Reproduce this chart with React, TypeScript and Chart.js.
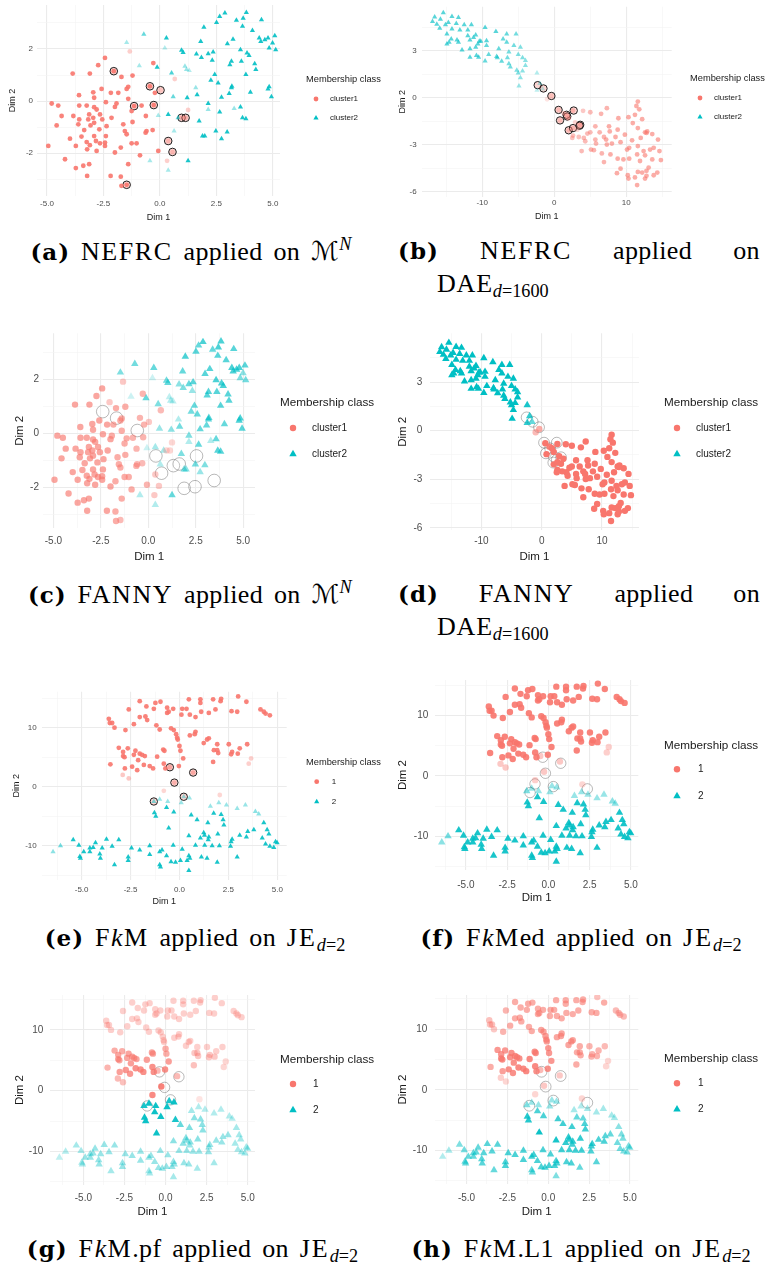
import React, { useEffect, useRef } from "react";
import { Chart, registerables } from "chart.js";
Chart.register(...registerables);

const FONT = '"Liberation Sans", Arial, Helvetica, sans-serif';
const SERIF = '"Liberation Serif", "Times New Roman", serif';
const RED = "248,118,109";
const TEAL = "0,191,196";
const LEGEND_TITLE = "Membership class";
const X_TITLE = "Dim 1";
const Y_TITLE = "Dim 2";

// ---------- tick definitions ----------
const M_X_MAJOR = [-5, -2.5, 0, 2.5, 5];
const M_X_LABELS = ["-5.0", "-2.5", "0.0", "2.5", "5.0"];
const M_X_MINOR = [-3.75, -1.25, 1.25, 3.75];
const M_Y_MAJOR = [-2, 0, 2];
const M_Y_LABELS = ["-2", "0", "2"];
const M_Y_MINOR = [-3, -1, 1, 3];

const DAE_X_MAJOR = [-10, 0, 10];
const DAE_X_LABELS = ["-10", "0", "10"];
const DAE_X_MINOR = [-15, -5, 5, 15];
const DAE_Y_MAJOR = [-6, -3, 0, 3];
const DAE_Y_LABELS = ["-6", "-3", "0", "3"];
const DAE_Y_MINOR = [-4.5, -1.5, 1.5, 4.5];

const JE_X_MAJOR = [-5, -2.5, 0, 2.5, 5];
const JE_X_LABELS = ["-5.0", "-2.5", "0.0", "2.5", "5.0"];
const JE_X_MINOR = [-6.25, -3.75, -1.25, 1.25, 3.75];
const JE_Y_MAJOR = [-10, 0, 10];
const JE_Y_LABELS = ["-10", "0", "10"];
const JE_Y_MINOR = [-15, -5, 5, 15];

const CLUSTER_LABELS = ["cluster1", "cluster2"];
const NUM_LABELS = ["1", "2"];

// ---------- data: M^N embedding  [x, y, class, membership(a), membership(c)] ----------
const M_ROWS = [
  [-1.33, 1.91, 1, 0.35, 0.4], [-2.43, 1.66, 1, 0.9, 0.65], [-0.29, 1.46, 1, 0.9, 0.55], [-2.73, 1.38, 1, 0.9, 0.65],
  [-3.86, 1.06, 1, 0.9, 0.65], [-3.1, 1.06, 1, 0.9, 0.65], [-2.04, 1.15, 1, 0.9, 0.4], [-1.7, 0.93, 1, 0.9, 0.6],
  [-1.21, 0.98, 1, 0.9, 0.6], [0.66, 0.85, 1, 0.35, 0.5], [-2.58, 0.47, 1, 0.9, 0.65], [-1.47, 0.47, 1, 0.9, 0.6],
  [-1.4, 0.55, 1, 0.9, 0.6], [-1.84, 0.32, 1, 0.9, 0.6], [-2.17, 0.32, 1, 0.9, 0.65], [-2.95, 0.34, 1, 0.9, 0.65],
  [-0.44, 0.57, 1, 0.9, 0.55], [-0.22, 0.32, 1, 0.9, 0.55], [-3.58, 0.23, 1, 0.9, 0.65], [-2.91, 0.13, 1, 0.9, 0.65],
  [-1.4, 0.09, 1, 0.9, 0.6], [-1.92, -0.09, 1, 0.9, 0.6], [-4.79, -0.09, 1, 0.9, 0.65], [-4.5, -0.17, 1, 0.9, 0.65],
  [-2.39, -0.04, 1, 0.9, 0.65], [-1.99, -0.22, 1, 0.9, 0.65], [-3.24, -0.17, 1, 0.9, 0.65], [-3.57, -0.17, 1, 0.9, 0.65],
  [-2.91, -0.23, 1, 0.9, 0.65], [-2.8, -0.32, 1, 0.9, 0.65], [-0.81, -0.17, 1, 0.9, 0.55], [-1.14, -0.19, 1, 0.9, 0.6],
  [-0.27, -0.15, 1, 0.9, 0.55], [-4.35, -0.57, 1, 0.9, 0.65], [-3.83, -0.57, 1, 0.9, 0.65], [-3.13, -0.51, 1, 0.9, 0.65],
  [-2.65, -0.51, 1, 0.9, 0.65], [-3.17, -0.7, 1, 0.9, 0.65], [-2.95, -0.64, 1, 0.9, 0.65], [-2.14, -0.64, 1, 0.9, 0.65],
  [-2.55, -0.7, 1, 0.9, 0.65], [-1.25, -0.38, 1, 0.9, 0.6], [-0.62, -0.57, 1, 0.9, 0.55], [-3.57, -0.7, 1, 0.9, 0.65],
  [-4.57, -0.93, 1, 0.9, 0.65], [-3.61, -0.89, 1, 0.9, 0.65], [-3.07, -0.93, 1, 0.9, 0.65], [-2.91, -0.83, 1, 0.9, 0.65],
  [-2.36, -0.96, 1, 0.9, 0.65], [-2.68, -1.08, 1, 0.9, 0.65], [-3.35, -1.11, 1, 0.9, 0.65], [-1.62, -0.89, 1, 0.9, 0.6],
  [-1.55, -1.15, 1, 0.9, 0.6], [-1.21, -0.8, 1, 0.9, 0.6], [-0.59, -1.15, 1, 0.9, 0.55], [-0.32, -1.11, 1, 0.9, 0.5],
  [-0.63, -1.21, 1, 0.9, 0.55], [1.25, -0.34, 1, 0.35, 0.3], [-3.98, -1.44, 1, 0.9, 0.65], [-3.47, -1.36, 1, 0.9, 0.65],
  [-2.91, -1.34, 1, 0.9, 0.65], [-2.39, -1.34, 1, 0.9, 0.65], [-3.24, -1.57, 1, 0.9, 0.65], [-2.83, -1.53, 1, 0.9, 0.65],
  [-2.65, -1.62, 1, 0.9, 0.65], [-2.43, -1.59, 1, 0.9, 0.65], [-1.25, -1.62, 1, 0.9, 0.6], [-1.03, -1.62, 1, 0.9, 0.6],
  [-1.47, -1.27, 1, 0.9, 0.6], [-3.72, -1.72, 1, 0.9, 0.65], [-3.1, -1.69, 1, 0.9, 0.65], [-4.94, -1.72, 1, 0.9, 0.65],
  [-3.22, -1.85, 1, 0.9, 0.65], [-2.8, -1.91, 1, 0.9, 0.65], [-2.43, -1.72, 1, 0.9, 0.65], [-1.73, -1.78, 1, 0.9, 0.6],
  [-4.2, -2.23, 1, 0.9, 0.65], [-1.99, -1.97, 1, 0.9, 0.65], [-0.88, -2.08, 1, 0.9, 0.6], [-0.07, -1.91, 1, 0.9, 0.55],
  [0.32, -2.29, 1, 0.35, 0.4], [-1.4, -2.42, 1, 0.9, 0.6], [-3.13, -2.42, 1, 0.9, 0.65], [-3.72, -2.57, 1, 0.9, 0.65],
  [-3.39, -2.48, 1, 0.9, 0.65], [-3.22, -2.87, 1, 0.9, 0.65], [-2.18, -2.87, 1, 0.9, 0.65], [-1.73, -2.9, 1, 0.9, 0.6],
  [-1.7, -3.25, 1, 0.9, 0.6], [-1.47, -3.21, 1, 0.9, 0.5], [0.96, -0.64, 1, 0.4, 0.3], [1.14, -0.64, 1, 0.4, 0.3],
  [0.37, -1.53, 1, 0.35, 0.4], [0.56, -1.95, 1, 0.35, 0.4], [0.03, 0.42, 1, 0.2, 0.4],
  [2.88, 3.38, 2, 0.9, 0.7], [2.65, 3.25, 2, 0.9, 0.6], [3.83, 3.4, 2, 0.9, 0.7], [3.69, 3.18, 2, 0.9, 0.7],
  [3.39, 3.1, 2, 0.9, 0.6], [2.51, 3.02, 2, 0.9, 0.65], [4.5, 3.12, 2, 0.9, 0.65], [1.95, 2.84, 2, 0.9, 0.7],
  [4.1, 2.71, 2, 0.9, 0.65], [3.66, 2.87, 2, 0.9, 0.65], [5.09, 2.51, 2, 0.9, 0.65], [4.65, 2.36, 2, 0.9, 0.7],
  [4.47, 2.29, 2, 0.9, 0.7], [4.79, 2.42, 2, 0.9, 0.7], [4.4, 2.42, 2, 0.9, 0.7], [3.24, 2.38, 2, 0.9, 0.65],
  [2.99, 2.2, 2, 0.9, 0.65], [1.81, 2.29, 2, 0.9, 0.6], [4.99, 2.23, 2, 0.9, 0.45], [5.13, 1.97, 2, 0.9, 0.55],
  [4.84, 2.04, 2, 0.9, 0.5], [3.57, 1.97, 2, 0.9, 0.7], [3.86, 1.85, 2, 0.9, 0.7], [3.95, 1.75, 2, 0.9, 0.7],
  [2.36, 1.89, 2, 0.9, 0.65], [2.14, 1.82, 2, 0.9, 0.6], [1.62, 1.81, 2, 0.9, 0.45], [1.84, 1.68, 2, 0.9, 0.5],
  [0.96, 1.95, 2, 0.9, 0.55], [1.03, 1.87, 2, 0.9, 0.6], [0.29, 2.42, 2, 0.9, 0.6], [-0.71, 2.57, 2, 0.6, 0.55],
  [-1.47, 2.25, 2, 0.35, 0.5], [0.22, 2.04, 2, 0.3, 0.2], [2.32, 1.57, 2, 0.9, 0.4], [3.1, 1.4, 2, 0.9, 0.65],
  [3.17, 1.53, 2, 0.9, 0.65], [3.61, 1.53, 2, 0.9, 0.65], [4.2, 1.44, 2, 0.9, 0.65], [4.25, 1.21, 2, 0.9, 0.65],
  [-0.91, 1.36, 2, 0.35, 0.2], [-0.12, 1.3, 2, 0.9, 0.6], [0.52, 1.08, 2, 0.7, 0.5], [1.11, 1.34, 2, 0.4, 0.25],
  [1.18, 1.21, 2, 0.4, 0.3], [1.3, 1.18, 2, 0.3, 0.25], [2.43, 1.02, 2, 0.9, 0.6], [2.26, 0.8, 2, 0.9, 0.55],
  [2.58, 0.7, 2, 0.9, 0.6], [3.81, 1.02, 2, 0.9, 0.65], [3.19, 0.57, 2, 0.9, 0.65], [3.17, 0.51, 2, 0.9, 0.65],
  [4.01, 0.34, 2, 0.9, 0.6], [4.84, 0.55, 2, 0.9, 0.7], [4.79, 0.47, 2, 0.9, 0.7], [4.94, 0.17, 2, 0.9, 0.65],
  [3.07, 0.29, 2, 0.9, 0.6], [2.73, 0.15, 2, 0.9, 0.6], [1.65, 0.25, 2, 0.9, 0.55], [1.59, 0.51, 2, 0.4, 0.3],
  [0.59, 0.17, 2, 0.6, 0.4], [1.21, 0.13, 2, 0.9, 0.45], [2.14, -0.09, 2, 0.9, 0.5], [3.57, -0.22, 2, 0.9, 0.6],
  [3.29, -0.28, 2, 0.4, 0.3], [2.14, -0.32, 2, 0.4, 0.3], [0.37, -0.51, 2, 0.9, 0.35], [-0.07, -0.55, 2, 0.35, 0.2],
  [0.63, -1.15, 2, 0.35, 0.3], [0.81, -0.64, 2, 0.6, 0.35], [2.65, -0.42, 2, 0.9, 0.6], [3.66, -0.64, 2, 0.9, 0.65],
  [3.81, -0.68, 2, 0.9, 0.65], [1.74, -0.76, 2, 0.9, 0.5], [2.48, -1.15, 2, 0.9, 0.55], [2.98, -1.18, 2, 0.9, 0.5],
  [1.89, -1.34, 2, 0.9, 0.5], [1.99, -1.34, 2, 0.9, 0.45], [2.73, -1.44, 2, 0.9, 0.4], [1.25, -2.29, 2, 0.9, 0.6],
  [-0.44, -2.29, 2, 0.35, 0.3], [0.37, -2.65, 2, 0.35, 0.3],
];
const CIRCLES_A = [[-2.04, 1.15], [-0.44, 0.57], [0.03, 0.42], [-1.14, -0.19], [-0.27, -0.15], [0.96, -0.64], [1.14, -0.64], [0.37, -1.53], [0.56, -1.95], [-1.47, -3.21]];
const CIRCLES_C = [[-2.4, 0.8], [-1.67, 0.56], [-0.58, 0.1], [0.4, -0.84], [2.54, -0.84], [1.32, -1.2], [1.63, -1.14], [0.7, -1.48], [3.47, -1.75], [1.89, -2.04], [2.46, -1.98]];

// ---------- data: DAE d=1600  [x, y, class, membership(b), membership(d)] ----------
const DAE_ROWS = [
  [-15.4, 5.43, 2, 0.65, 1], [-16.6, 5.16, 2, 0.65, 1], [-15.8, 5.01, 2, 0.65, 1], [-14.2, 5.18, 2, 0.65, 1],
  [-13.3, 5.12, 2, 0.65, 1], [-16.9, 4.86, 2, 0.65, 1], [-16.3, 4.69, 2, 0.65, 1], [-15.1, 4.65, 2, 0.65, 1],
  [-14.7, 4.8, 2, 0.65, 1], [-13.6, 4.74, 2, 0.65, 1], [-12.5, 4.65, 2, 0.65, 1], [-11.5, 4.65, 2, 0.65, 1],
  [-15.9, 4.44, 2, 0.65, 1], [-14.2, 4.38, 2, 0.65, 1], [-14.9, 4.06, 2, 0.65, 1], [-13.1, 4.32, 2, 0.65, 1],
  [-12.0, 4.32, 2, 0.65, 1], [-9.6, 4.48, 2, 0.65, 1], [-8.1, 4.23, 2, 0.65, 1], [-6.6, 4.06, 2, 0.6, 1],
  [-5.3, 4.06, 2, 0.55, 1], [-12.0, 3.96, 2, 0.65, 1], [-10.9, 4.0, 2, 0.65, 1], [-11.2, 3.85, 2, 0.65, 1],
  [-14.3, 3.75, 2, 0.65, 1], [-13.5, 3.68, 2, 0.65, 1], [-13.3, 3.54, 2, 0.65, 1], [-14.6, 3.54, 2, 0.65, 1],
  [-14.9, 3.43, 2, 0.65, 1], [-10.4, 3.6, 2, 0.65, 1], [-10.2, 3.6, 2, 0.65, 1], [-9.4, 3.64, 2, 0.65, 1],
  [-7.1, 3.75, 2, 0.6, 1], [-6.6, 3.54, 2, 0.6, 1], [-5.6, 3.33, 2, 0.55, 1], [-11.7, 3.68, 2, 0.65, 1],
  [-10.6, 3.43, 2, 0.65, 1], [-9.4, 3.33, 2, 0.6, 1], [-12.8, 3.05, 2, 0.65, 1], [-11.7, 3.12, 2, 0.65, 1],
  [-10.9, 3.22, 2, 0.65, 1], [-7.7, 3.12, 2, 0.6, 1], [-6.3, 2.91, 2, 0.55, 1], [-4.7, 3.22, 2, 0.5, 1],
  [-5.0, 2.76, 2, 0.5, 1], [-11.7, 2.59, 2, 0.65, 1], [-10.8, 2.69, 2, 0.65, 1], [-10.5, 2.59, 2, 0.65, 1],
  [-9.1, 2.76, 2, 0.6, 1], [-8.0, 2.63, 2, 0.6, 1], [-7.9, 2.55, 2, 0.6, 1], [-6.5, 2.55, 2, 0.55, 1],
  [-4.4, 2.55, 2, 0.5, 1], [-9.6, 2.34, 2, 0.6, 1], [-7.3, 2.32, 2, 0.6, 1], [-6.3, 2.17, 2, 0.55, 1],
  [-4.0, 2.38, 2, 0.45, 1], [-6.1, 1.96, 2, 0.55, 1], [-5.2, 1.75, 2, 0.5, 1], [-5.0, 1.58, 2, 0.5, 1],
  [-4.0, 2.06, 2, 0.45, 1], [-4.4, 1.71, 2, 0.45, 1], [-2.4, 1.58, 2, 0.3, 0.9], [-4.7, 1.28, 2, 0.45, 1],
  [-4.9, 0.74, 2, 0.4, 1], [-2.4, 0.48, 2, 0.25, 0.8], [-2.0, 0.9, 2, 0.3, 0.8], [-1.6, 0.55, 2, 0.25, 0.6],
  [11.6, -0.25, 1, 0.6, 1], [11.4, -0.53, 1, 0.6, 1], [11.8, -0.74, 1, 0.6, 1], [7.3, -0.67, 1, 0.55, 1],
  [5.0, -0.93, 1, 0.5, 1], [6.5, -1.03, 1, 0.55, 1], [4.0, -0.84, 1, 0.4, 1], [2.6, -0.82, 1, 0.4, 1],
  [0.6, -0.78, 1, 0.3, 1], [2.0, -1.31, 1, 0.4, 1], [8.9, -1.31, 1, 0.6, 1], [10.3, -1.24, 1, 0.6, 1],
  [11.2, -1.09, 1, 0.6, 1], [12.2, -1.37, 1, 0.6, 1], [7.6, -1.83, 1, 0.6, 1], [5.7, -1.83, 1, 0.55, 1],
  [8.8, -2.04, 1, 0.6, 1], [10.9, -1.62, 1, 0.6, 1], [11.6, -1.94, 1, 0.6, 1], [12.9, -2.15, 1, 0.6, 1],
  [5.0, -2.21, 1, 0.5, 1], [4.6, -2.29, 1, 0.5, 1], [6.3, -2.21, 1, 0.55, 1], [7.7, -2.15, 1, 0.6, 1],
  [9.8, -2.36, 1, 0.6, 1], [12.6, -2.21, 1, 0.6, 1], [13.6, -2.32, 1, 0.6, 1], [6.9, -2.51, 1, 0.55, 1],
  [8.5, -2.51, 1, 0.6, 1], [10.8, -2.72, 1, 0.6, 1], [12.0, -2.57, 1, 0.6, 1], [12.8, -2.25, 1, 0.6, 1],
  [14.4, -2.67, 1, 0.6, 1], [4.1, -2.57, 1, 0.5, 1], [3.4, -2.51, 1, 0.45, 1], [2.6, -2.42, 1, 0.45, 1],
  [2.5, -2.57, 1, 0.45, 1], [4.3, -2.78, 1, 0.5, 1], [5.7, -2.67, 1, 0.55, 1], [7.2, -2.67, 1, 0.6, 1],
  [9.2, -2.84, 1, 0.6, 1], [5.8, -2.93, 1, 0.55, 1], [7.3, -2.99, 1, 0.6, 1], [8.0, -2.93, 1, 0.6, 1],
  [10.4, -3.2, 1, 0.6, 1], [11.6, -3.09, 1, 0.6, 1], [13.8, -3.2, 1, 0.6, 1], [13.3, -3.31, 1, 0.6, 1],
  [5.1, -3.31, 1, 0.55, 1], [5.5, -3.35, 1, 0.55, 1], [10.1, -3.31, 1, 0.6, 1], [12.4, -3.41, 1, 0.6, 1],
  [14.6, -3.41, 1, 0.6, 1], [3.8, -3.41, 1, 0.5, 1], [6.6, -3.56, 1, 0.55, 1], [7.8, -3.62, 1, 0.6, 1],
  [8.8, -3.89, 1, 0.6, 1], [9.6, -3.94, 1, 0.6, 1], [10.4, -3.89, 1, 0.6, 1], [11.5, -3.62, 1, 0.6, 1],
  [12.6, -3.68, 1, 0.6, 1], [13.6, -3.94, 1, 0.6, 1], [14.8, -3.98, 1, 0.6, 1], [6.9, -4.11, 1, 0.55, 1],
  [11.9, -4.04, 1, 0.6, 1], [9.2, -4.53, 1, 0.6, 1], [13.1, -4.46, 1, 0.6, 1], [12.8, -4.67, 1, 0.6, 1],
  [11.6, -4.74, 1, 0.6, 1], [12.2, -4.78, 1, 0.6, 1], [14.3, -4.78, 1, 0.6, 1], [13.8, -4.95, 1, 0.6, 1],
  [8.7, -4.82, 1, 0.6, 1], [10.2, -4.95, 1, 0.6, 1], [11.2, -5.09, 1, 0.6, 1], [12.6, -5.16, 1, 0.6, 1],
  [12.8, -4.99, 1, 0.6, 1], [10.3, -5.16, 1, 0.6, 1], [11.5, -5.58, 1, 0.6, 1],
  [1.3, -0.99, 1, 0.3, 0.9], [2.9, -1.58, 1, 0.3, 1], [3.2, -2.04, 1, 0.3, 1], [-0.4, 0.11, 1, 0.25, 0.6],
  [0.8, -1.45, 1, 0.3, 1], [1.7, -1.09, 1, 0.3, 1], [3.6, -1.73, 1, 0.35, 1], [2.0, -2.08, 1, 0.35, 1],
  [2.6, -1.94, 1, 0.35, 1], [-1.0, -0.1, 1, 0.2, 0.5],
];
const CIRCLES_B = [[-2.3, 0.8], [-1.5, 0.59], [-0.4, 0.11], [0.6, -0.78], [0.8, -1.45], [1.7, -1.09], [1.8, -1.2], [2.7, -0.82], [2.0, -2.08], [2.6, -1.94], [3.6, -1.73], [3.5, -1.79]];
const CIRCLES_D = [[-2.5, 0.82], [-1.5, 0.55], [-0.44, 0.21], [0.39, -0.74], [2.5, -0.74], [1.4, -1.09], [0.7, -1.4], [2.0, -1.6], [3.2, -1.64], [1.93, -1.97], [2.5, -1.8]];

// ---------- data: JE d=2  [x, y, class, m(e), m(f), m(g), m(h)] ----------
const JE_ROWS = [
  [3.0, 15.3, 1, 0.9, 0.9, 0.35, 0.45], [2.13, 14.9, 1, 0.9, 0.9, 0.35, 0.6], [0.48, 14.8, 1, 0.9, 0.9, 0.35, 0.6],
  [1.07, 14.8, 1, 0.9, 0.9, 0.35, 0.6], [-2.03, 14.5, 1, 0.9, 0.9, 0.35, 0.6], [-0.97, 14.4, 1, 0.9, 0.9, 0.35, 0.6],
  [-1.23, 14.2, 1, 0.9, 0.9, 0.35, 0.6], [1.07, 14.2, 1, 0.9, 0.9, 0.35, 0.6], [1.72, 14.8, 1, 0.9, 0.9, 0.35, 0.6],
  [2.1, 14.5, 1, 0.9, 0.9, 0.35, 0.6], [3.42, 14.4, 1, 0.9, 0.9, 0.35, 0.6], [-1.69, 13.6, 1, 0.9, 0.9, 0.35, 0.6],
  [-0.63, 13.4, 1, 0.9, 0.9, 0.35, 0.6], [-0.32, 13.2, 1, 0.9, 0.9, 0.35, 0.6], [0.14, 13.2, 1, 0.9, 0.9, 0.35, 0.6],
  [0.36, 13.2, 1, 0.9, 0.9, 0.35, 0.6], [-2.59, 13.1, 1, 0.9, 0.9, 0.35, 0.55], [-1.31, 13.2, 1, 0.9, 0.9, 0.35, 0.6],
  [1.11, 12.7, 1, 0.9, 0.9, 0.35, 0.6], [1.5, 12.5, 1, 0.9, 0.9, 0.35, 0.6], [1.84, 13.1, 1, 0.9, 0.9, 0.35, 0.6],
  [2.66, 12.8, 1, 0.9, 0.9, 0.35, 0.6], [2.95, 12.7, 1, 0.9, 0.9, 0.35, 0.6], [4.14, 13.1, 1, 0.9, 0.9, 0.35, 0.5],
  [4.31, 12.7, 1, 0.9, 0.9, 0.35, 0.5], [4.62, 12.1, 1, 0.9, 0.9, 0.35, 0.5], [4.4, 12.4, 1, 0.9, 0.9, 0.35, 0.5],
  [-0.63, 12.5, 1, 0.9, 0.9, 0.35, 0.6], [-0.55, 12.7, 1, 0.9, 0.9, 0.35, 0.6], [0.1, 12.2, 1, 0.9, 0.9, 0.35, 0.6],
  [0.53, 12.2, 1, 0.9, 0.9, 0.35, 0.6], [0.82, 11.8, 1, 0.9, 0.9, 0.35, 0.6], [-1.74, 11.9, 1, 0.9, 0.9, 0.35, 0.6],
  [-1.65, 11.3, 1, 0.9, 0.9, 0.35, 0.6], [-2.03, 11.8, 1, 0.9, 0.9, 0.35, 0.6], [-2.33, 10.6, 1, 0.9, 0.9, 0.35, 0.6],
  [-3.61, 11.5, 1, 0.9, 0.9, 0.35, 0.45], [-3.56, 10.8, 1, 0.9, 0.9, 0.35, 0.45], [-3.44, 10.8, 1, 0.9, 0.9, 0.35, 0.45],
  [-3.32, 10.0, 1, 0.9, 0.9, 0.35, 0.4], [-2.76, 9.6, 1, 0.9, 0.9, 0.35, 0.55], [-1.18, 10.4, 1, 0.9, 0.9, 0.35, 0.6],
  [-1.01, 9.7, 1, 0.9, 0.9, 0.35, 0.6], [-0.43, 9.9, 1, 0.9, 0.9, 0.35, 0.65], [-0.29, 9.6, 1, 0.9, 0.9, 0.35, 0.65],
  [-0.17, 8.9, 1, 0.9, 0.9, 0.35, 0.7], [-0.12, 8.3, 1, 0.9, 0.9, 0.35, 0.7], [-0.09, 8.0, 1, 0.9, 0.9, 0.35, 0.7],
  [0.53, 8.7, 1, 0.9, 0.9, 0.35, 0.65], [0.78, 8.9, 1, 0.9, 0.9, 0.35, 0.65], [0.82, 9.3, 1, 0.9, 0.9, 0.35, 0.65],
  [1.41, 8.0, 1, 0.9, 0.9, 0.35, 0.65], [1.5, 8.2, 1, 0.9, 0.9, 0.35, 0.65], [1.24, 7.4, 1, 0.9, 0.9, 0.35, 0.65],
  [1.93, 7.2, 1, 0.9, 0.9, 0.35, 0.6], [2.52, 7.2, 1, 0.9, 0.9, 0.35, 0.55], [3.46, 7.2, 1, 0.9, 0.9, 0.35, 0.5],
  [3.08, 6.5, 1, 0.9, 0.9, 0.35, 0.55], [2.69, 5.9, 1, 0.9, 0.9, 0.4, 0.55], [2.64, 5.5, 1, 0.9, 0.9, 0.4, 0.55],
  [2.98, 5.6, 1, 0.9, 0.9, 0.4, 0.55], [1.93, 6.2, 1, 0.9, 0.9, 0.4, 0.6], [1.76, 6.2, 1, 0.9, 0.9, 0.4, 0.6],
  [1.98, 5.7, 1, 0.9, 0.9, 0.4, 0.6], [1.72, 4.2, 1, 0.9, 0.9, 0.45, 0.6], [3.66, 4.8, 1, 0.35, 0.35, 0.3, 0.3],
  [3.54, 3.9, 1, 0.35, 0.35, 0.3, 0.3], [-3.1, 6.6, 1, 0.9, 0.9, 0.6, 0.75], [-2.64, 6.5, 1, 0.9, 0.9, 0.6, 0.75],
  [-2.88, 5.9, 1, 0.9, 0.9, 0.65, 0.75], [-2.88, 5.2, 1, 0.9, 0.9, 0.65, 0.8], [-2.81, 5.0, 1, 0.9, 0.9, 0.65, 0.8],
  [-2.33, 5.4, 1, 0.9, 0.9, 0.65, 0.8], [-2.25, 6.1, 1, 0.9, 0.9, 0.65, 0.8], [-2.03, 5.6, 1, 0.9, 0.9, 0.65, 0.8],
  [-1.91, 5.4, 1, 0.9, 0.9, 0.65, 0.8], [-1.77, 5.2, 1, 0.9, 0.9, 0.65, 0.8], [-2.11, 4.5, 1, 0.9, 0.9, 0.7, 0.8],
  [-2.42, 3.4, 1, 0.9, 0.9, 0.75, 0.8], [-2.16, 2.8, 1, 0.9, 0.9, 0.75, 0.8], [-2.79, 3.1, 1, 0.9, 0.9, 0.7, 0.7],
  [-3.53, 3.8, 1, 0.9, 0.9, 0.55, 0.6], [-2.9, 2.0, 1, 0.4, 0.4, 0.5, 0.35], [-2.59, 1.4, 1, 0.4, 0.4, 0.45, 0.3],
  [-1.82, 3.7, 1, 0.9, 0.9, 0.8, 0.85], [-1.52, 3.5, 1, 0.9, 0.9, 0.8, 0.85], [-1.35, 3.1, 1, 0.9, 0.9, 0.8, 0.85],
  [-1.14, 5.1, 1, 0.9, 0.9, 0.7, 0.85], [-0.83, 6.3, 1, 0.9, 0.9, 0.65, 0.8], [-0.77, 6.1, 1, 0.9, 0.9, 0.65, 0.8],
  [-0.8, 3.9, 1, 0.9, 0.9, 0.8, 0.85], [-0.72, 3.1, 1, 0.9, 0.9, 0.8, 0.8], [-0.03, 3.5, 1, 0.9, 0.9, 0.8, 0.8],
  [0.19, 4.8, 1, 0.9, 0.9, 0.7, 0.75], [0.0, 6.9, 1, 0.9, 0.9, 0.6, 0.75], [0.05, 6.1, 1, 0.9, 0.9, 0.6, 0.75],
  [-0.49, 3.3, 1, 0.5, 0.4, 0.5, 0.5], [0.7, 2.4, 1, 0.5, 0.4, 0.5, 0.4], [-0.26, 0.7, 1, 0.4, 0.4, 0.9, 0.4],
  [-0.8, -0.7, 1, 0.3, 0.35, 0.85, 0.3], [2.06, -1.4, 1, 0.3, 0.3, 0.2, 0.3],
  [-1.01, -2.1, 2, 0.4, 0.4, 0.95, 0.4], [-0.6, -2.5, 2, 0.4, 0.4, 0.95, 0.4], [0.09, -2.7, 2, 0.4, 0.4, 0.95, 0.4],
  [0.51, -1.9, 2, 0.4, 0.4, 0.95, 0.4], [1.58, -3.3, 2, 0.4, 0.4, 0.35, 0.35], [2.01, -2.7, 2, 0.4, 0.4, 0.3, 0.3],
  [2.4, -3.1, 2, 0.4, 0.4, 0.3, 0.35], [2.95, -3.7, 2, 0.4, 0.4, 0.3, 0.35], [3.37, -3.1, 2, 0.4, 0.4, 0.3, 0.35],
  [3.88, -4.2, 2, 0.45, 0.45, 0.3, 0.35], [4.05, -4.6, 2, 0.45, 0.45, 0.3, 0.35], [0.22, -1.7, 2, 0.4, 0.4, 0.9, 0.4],
  [-1.31, -2.5, 2, 0.5, 0.5, 0.9, 0.5], [-1.28, -4.4, 2, 0.9, 0.9, 0.95, 0.85], [-1.21, -5.0, 2, 0.9, 0.9, 0.95, 0.85],
  [-0.66, -3.5, 2, 0.9, 0.9, 0.95, 0.7], [-0.29, -4.3, 2, 0.9, 0.9, 0.95, 0.7], [-0.55, -7.0, 2, 0.9, 0.9, 0.95, 0.95],
  [0.6, -4.8, 2, 0.9, 0.9, 0.9, 0.75], [0.9, -5.6, 2, 0.9, 0.9, 0.6, 0.75], [1.45, -6.1, 2, 0.9, 0.9, 0.5, 0.75],
  [1.75, -4.5, 2, 0.9, 0.9, 0.45, 0.6], [2.13, -4.7, 2, 0.9, 0.9, 0.45, 0.6], [2.27, -6.5, 2, 0.9, 0.9, 0.45, 0.75],
  [2.23, -5.6, 2, 0.9, 0.9, 0.45, 0.7], [1.24, -7.8, 2, 0.9, 0.9, 0.45, 0.8], [1.28, -8.2, 2, 0.9, 0.9, 0.45, 0.8],
  [1.07, -8.7, 2, 0.9, 0.9, 0.45, 0.8], [1.5, -8.5, 2, 0.9, 0.9, 0.45, 0.8], [1.96, -8.0, 2, 0.9, 0.9, 0.45, 0.8],
  [1.67, -10.0, 2, 0.9, 0.9, 0.4, 0.75], [2.04, -10.0, 2, 0.9, 0.9, 0.4, 0.75], [0.48, -8.3, 2, 0.9, 0.9, 0.45, 0.9],
  [0.82, -9.9, 2, 0.9, 0.9, 0.4, 0.75], [1.29, -9.9, 2, 0.9, 0.9, 0.4, 0.75], [1.47, -9.0, 2, 0.9, 0.9, 0.4, 0.75],
  [2.69, -8.9, 2, 0.9, 0.9, 0.4, 0.75], [2.64, -9.3, 2, 0.9, 0.9, 0.4, 0.75], [2.61, -10.1, 2, 0.9, 0.9, 0.4, 0.7],
  [3.08, -8.2, 2, 0.9, 0.9, 0.4, 0.7], [3.42, -8.5, 2, 0.9, 0.9, 0.4, 0.7], [3.49, -7.6, 2, 0.9, 0.9, 0.4, 0.65],
  [3.8, -7.3, 2, 0.9, 0.9, 0.4, 0.6], [4.31, -6.1, 2, 0.9, 0.9, 0.35, 0.45], [4.48, -7.3, 2, 0.9, 0.9, 0.35, 0.5],
  [4.57, -8.0, 2, 0.9, 0.9, 0.35, 0.5], [4.23, -8.7, 2, 0.9, 0.9, 0.35, 0.55], [4.4, -9.7, 2, 0.9, 0.9, 0.35, 0.55],
  [4.62, -10.1, 2, 0.9, 0.9, 0.35, 0.5], [4.82, -10.3, 2, 0.9, 0.9, 0.35, 0.5], [4.91, -9.3, 2, 0.9, 0.9, 0.35, 0.5],
  [4.99, -9.5, 2, 0.9, 0.9, 0.35, 0.5], [2.95, -11.9, 2, 0.9, 0.9, 0.35, 0.65], [1.93, -12.8, 2, 0.9, 0.9, 0.35, 0.6],
  [1.41, -12.1, 2, 0.9, 0.9, 0.4, 0.7], [1.12, -11.9, 2, 0.9, 0.9, 0.4, 0.7], [0.39, -12.5, 2, 0.9, 0.9, 0.4, 0.7],
  [0.48, -11.7, 2, 0.9, 0.9, 0.4, 0.7], [0.53, -12.1, 2, 0.9, 0.9, 0.4, 0.7], [0.14, -10.6, 2, 0.9, 0.9, 0.4, 0.7],
  [0.05, -12.5, 2, 0.9, 0.9, 0.4, 0.7], [-0.2, -12.8, 2, 0.9, 0.9, 0.4, 0.7], [-0.43, -12.7, 2, 0.9, 0.9, 0.4, 0.7],
  [-0.66, -11.7, 2, 0.9, 0.9, 0.4, 0.7], [-0.89, -10.7, 2, 0.9, 0.9, 0.4, 0.75], [-1.01, -11.0, 2, 0.9, 0.9, 0.4, 0.75],
  [-1.01, -13.2, 2, 0.9, 0.9, 0.35, 0.6], [-0.97, -13.6, 2, 0.9, 0.9, 0.35, 0.6], [-0.32, -9.9, 2, 0.9, 0.9, 0.4, 0.7],
  [0.48, -14.2, 2, 0.9, 0.9, 0.35, 0.5], [-1.52, -10.0, 2, 0.9, 0.9, 0.4, 0.7], [-1.52, -11.5, 2, 0.9, 0.9, 0.4, 0.7],
  [-2.03, -10.7, 2, 0.9, 0.9, 0.4, 0.7], [-2.45, -10.4, 2, 0.9, 0.9, 0.4, 0.7], [-2.62, -11.9, 2, 0.9, 0.9, 0.4, 0.7],
  [-2.62, -12.5, 2, 0.9, 0.9, 0.4, 0.7], [-3.1, -9.0, 2, 0.9, 0.9, 0.4, 0.65], [-3.32, -13.2, 2, 0.9, 0.9, 0.35, 0.6],
  [-3.44, -10.1, 2, 0.9, 0.9, 0.4, 0.65], [-3.73, -8.9, 2, 0.9, 0.9, 0.4, 0.65], [-3.95, -10.4, 2, 0.9, 0.9, 0.4, 0.65],
  [-4.07, -11.4, 2, 0.9, 0.9, 0.4, 0.65], [-4.04, -12.1, 2, 0.9, 0.9, 0.4, 0.65], [-4.29, -9.5, 2, 0.9, 0.9, 0.4, 0.6],
  [-4.41, -10.3, 2, 0.9, 0.9, 0.4, 0.6], [-4.58, -10.4, 2, 0.9, 0.9, 0.4, 0.6], [-4.58, -11.0, 2, 0.9, 0.9, 0.4, 0.6],
  [-4.89, -11.0, 2, 0.9, 0.9, 0.4, 0.6], [-5.06, -12.1, 2, 0.9, 0.9, 0.35, 0.6], [-5.09, -11.8, 2, 0.9, 0.9, 0.35, 0.6],
  [-5.14, -9.9, 2, 0.9, 0.9, 0.35, 0.55], [-5.43, -9.0, 2, 0.9, 0.9, 0.35, 0.5], [-6.08, -10.0, 2, 0.55, 0.55, 0.3, 0.35],
  [-6.46, -11.0, 2, 0.45, 0.45, 0.25, 0.3],
];
const CIRCLES_E = [[-0.49, 3.3], [0.7, 2.4], [-0.26, 0.7], [0.22, -1.7], [-1.31, -2.5]];
const CIRCLES_F = [[-0.34, 3.1], [0.75, 2.1], [-0.18, 0.44], [-0.81, -1.33], [0.3, -1.77], [-1.11, -2.76], [2.36, -2.15]];
const CIRCLES_G = [[-0.37, 3.1], [0.81, 2.3], [-0.06, 0.55], [-1.12, -2.5], [0.3, -1.5]];
const CIRCLES_H = [[-0.41, 3.0], [0.76, 2.3], [-0.16, 0.55], [0.31, -1.75], [-1.16, -2.6], [2.39, -2.1]];

// ---------- layout / style (not data) ----------
const SMALL = { tick: 8, title: 9, legTitle: 9.3, legLabel: 8, pt: 2.4, tri: 3.0 };
const LARGE = { tick: 10, title: 11.5, legTitle: 11.7, legLabel: 10, pt: 3.2, tri: 4.3 };
const BLACK_RING = { fill: "rgba(248,118,109,0.3)", stroke: "rgba(20,20,20,0.95)", width: 1 };
const GREY_RING = { fill: "rgba(255,255,255,0.12)", stroke: "rgba(60,60,60,0.45)", width: 0.8 };

const PANELS: any[] = [
  { key: "a", rows: M_ROWS, m: 3, circles: CIRCLES_A, ring: BLACK_RING, ringR: 3.8, sz: SMALL,
    xMajor: M_X_MAJOR, xLabels: M_X_LABELS, xMinor: M_X_MINOR, yMajor: M_Y_MAJOR, yLabels: M_Y_LABELS, yMinor: M_Y_MINOR,
    box: { left: 0, top: 0, width: 390, height: 228 }, area: { l: 37, t: 5, r: 280, b: 196 },
    xRange: [-5.44, 5.32], yRange: [-3.64, 3.69], yTickRight: 33, xTickY: 203.3, dim1Y: 218, dim2X: 13,
    legend: { titleX: 306, titleY: 79, markerX: 316, textX: 330, rows: [99, 118] }, labels: CLUSTER_LABELS },
  { key: "b", rows: DAE_ROWS, m: 3, circles: CIRCLES_B, ring: BLACK_RING, ringR: 3.7, sz: SMALL,
    xMajor: DAE_X_MAJOR, xLabels: DAE_X_LABELS, xMinor: DAE_X_MINOR, yMajor: DAE_Y_MAJOR, yLabels: DAE_Y_LABELS, yMinor: DAE_Y_MINOR,
    box: { left: 390, top: 0, width: 386, height: 228 }, area: { l: 31.7, t: 6.7, r: 281.7, b: 196.7 },
    xRange: [-18.4, 16.3], yRange: [-6.32, 5.81], yTickRight: 26.7, xTickY: 203, dim1Y: 217, dim2X: 13,
    legend: { titleX: 300, titleY: 78, markerX: 310, textX: 324, rows: [98, 117] }, labels: CLUSTER_LABELS },
  { key: "c", rows: M_ROWS, m: 4, circles: CIRCLES_C, ring: GREY_RING, ringR: 6.3, sz: LARGE,
    xMajor: M_X_MAJOR, xLabels: M_X_LABELS, xMinor: M_X_MINOR, yMajor: M_Y_MAJOR, yLabels: M_Y_LABELS, yMinor: M_Y_MINOR,
    box: { left: 0, top: 320, width: 390, height: 250 }, area: { l: 43.3, t: 13.3, r: 255, b: 208.3 },
    xRange: [-5.53, 5.62], yRange: [-3.52, 3.7], yTickRight: 39, xTickY: 221.7, dim1Y: 236.7, dim2X: 20,
    legend: { titleX: 280, titleY: 83, markerX: 293, textX: 312, rows: [108, 134] }, labels: CLUSTER_LABELS },
  { key: "d", rows: DAE_ROWS, m: 4, circles: CIRCLES_D, ring: GREY_RING, ringR: 5.4, sz: LARGE,
    xMajor: DAE_X_MAJOR, xLabels: DAE_X_LABELS, xMinor: DAE_X_MINOR, yMajor: DAE_Y_MAJOR, yLabels: DAE_Y_LABELS, yMinor: DAE_Y_MINOR,
    box: { left: 390, top: 320, width: 386, height: 250 }, area: { l: 39.8, t: 13.3, r: 249, b: 210.3 },
    xRange: [-18.56, 16.14], yRange: [-6.15, 6.01], yTickRight: 32.3, xTickY: 221.7, dim1Y: 236.7, dim2X: 13.3,
    legend: { titleX: 274, titleY: 83, markerX: 287, textX: 306, rows: [108, 134] }, labels: CLUSTER_LABELS },
  { key: "e", rows: JE_ROWS, m: 3, circles: CIRCLES_E, ring: BLACK_RING, ringR: 3.7, sz: SMALL,
    xMajor: JE_X_MAJOR, xLabels: JE_X_LABELS, xMinor: JE_X_MINOR, yMajor: JE_Y_MAJOR, yLabels: JE_Y_LABELS, yMinor: JE_Y_MINOR,
    box: { left: 0, top: 670, width: 390, height: 240 }, area: { l: 41.7, t: 21.7, r: 286.7, b: 210 },
    xRange: [-7.04, 5.48], yRange: [-15.8, 16.1], yTickRight: 36.7, xTickY: 220, dim1Y: 231.7, dim2X: 16.7,
    legend: { titleX: 306, titleY: 92.7, markerX: 316.7, textX: 331.7, rows: [111.7, 131.7] }, labels: NUM_LABELS },
  { key: "f", rows: JE_ROWS, m: 4, circles: CIRCLES_F, ring: GREY_RING, ringR: 5.2, sz: LARGE,
    xMajor: JE_X_MAJOR, xLabels: JE_X_LABELS, xMinor: JE_X_MINOR, yMajor: JE_Y_MAJOR, yLabels: JE_Y_LABELS, yMinor: JE_Y_MINOR,
    box: { left: 390, top: 665, width: 386, height: 245 }, area: { l: 45, t: 15, r: 248.3, b: 205 },
    xRange: [-6.87, 5.45], yRange: [-15.6, 15.9], yTickRight: 38.3, xTickY: 220, dim1Y: 233.3, dim2X: 13.3,
    legend: { titleX: 274, titleY: 80.7, markerX: 287, textX: 308, rows: [104.3, 131] }, labels: NUM_LABELS },
  { key: "g", rows: JE_ROWS, m: 5, circles: CIRCLES_G, ring: GREY_RING, ringR: 5.2, sz: LARGE,
    xMajor: JE_X_MAJOR, xLabels: JE_X_LABELS, xMinor: JE_X_MINOR, yMajor: JE_Y_MAJOR, yLabels: JE_Y_LABELS, yMinor: JE_Y_MINOR,
    box: { left: 0, top: 980, width: 390, height: 242 }, area: { l: 50, t: 15, r: 255, b: 205 },
    xRange: [-7.03, 5.44], yRange: [-15.5, 15.74], yTickRight: 43.3, xTickY: 218.3, dim1Y: 231.7, dim2X: 20,
    legend: { titleX: 280, titleY: 80, markerX: 293, textX: 313, rows: [104, 130] }, labels: NUM_LABELS },
  { key: "h", rows: JE_ROWS, m: 6, circles: CIRCLES_H, ring: GREY_RING, ringR: 5.4, sz: LARGE,
    xMajor: JE_X_MAJOR, xLabels: JE_X_LABELS, xMinor: JE_X_MINOR, yMajor: JE_Y_MAJOR, yLabels: JE_Y_LABELS, yMinor: JE_Y_MINOR,
    box: { left: 390, top: 980, width: 386, height: 242 }, area: { l: 45, t: 15, r: 248.3, b: 204 },
    xRange: [-6.93, 5.51], yRange: [-15.5, 15.65], yTickRight: 37.3, xTickY: 218.3, dim1Y: 231.7, dim2X: 13.3,
    legend: { titleX: 274, titleY: 79, markerX: 287, textX: 308, rows: [103.3, 129.3] }, labels: NUM_LABELS },
];

const MAJOR_GRID = "#EBEBEB";
const MINOR_GRID = "#F3F3F3";

function tickList(major: number[], minor: number[], min: number, max: number) {
  return [...major, ...minor].filter((v) => v >= min && v <= max).sort((a, b) => a - b);
}

function makeScale(p: any, axis: "x" | "y") {
  const { box, area, sz } = p;
  const padL = p.dim2X - 0.6 * sz.title;
  const padB = box.height - p.dim1Y - 0.6 * sz.title;
  const major = axis === "x" ? p.xMajor : p.yMajor;
  const labels = axis === "x" ? p.xLabels : p.yLabels;
  const minor = axis === "x" ? p.xMinor : p.yMinor;
  const range = axis === "x" ? p.xRange : p.yRange;
  const ticks = tickList(major, minor, range[0], range[1]);
  const labelMap = new Map<number, string>(major.map((v: number, i: number) => [v, labels[i]]));
  const isMajor = (v: number) => major.includes(v);
  const tickPad = axis === "x" ? Math.max(0, p.xTickY - area.b - 0.6 * sz.tick) : area.l - p.yTickRight;
  return {
    type: "linear",
    position: axis === "x" ? "bottom" : "left",
    min: range[0],
    max: range[1],
    afterBuildTicks: (s: any) => {
      s.ticks = ticks.map((v) => ({ value: v }));
    },
    afterFit: (s: any) => {
      if (axis === "x") s.height = box.height - padB - area.b;
      else s.width = area.l - padL;
      s.paddingLeft = 0;
      s.paddingRight = 0;
      s.paddingTop = 0;
      s.paddingBottom = 0;
    },
    ticks: {
      autoSkip: false,
      maxRotation: 0,
      minRotation: 0,
      padding: tickPad,
      color: "#4D4D4D",
      font: { family: FONT, size: sz.tick },
      callback: (v: number) => labelMap.get(v) ?? "",
    },
    grid: {
      drawTicks: false,
      color: (ctx: any) => (ctx.tick && isMajor(ctx.tick.value) ? MAJOR_GRID : MINOR_GRID),
      lineWidth: (ctx: any) => (ctx.tick && isMajor(ctx.tick.value) ? 1.1 : 0.6),
    },
    border: { display: false },
    title: {
      display: true,
      text: axis === "x" ? X_TITLE : Y_TITLE,
      color: "#1A1A1A",
      font: { family: FONT, size: sz.title },
      padding: 0,
    },
  };
}

function legendPlugin(p: any) {
  return {
    id: "ggLegend_" + p.key,
    afterDraw(chart: any) {
      const ctx = chart.ctx as CanvasRenderingContext2D;
      const L = p.legend;
      ctx.save();
      ctx.textBaseline = "middle";
      ctx.textAlign = "left";
      ctx.fillStyle = "#1A1A1A";
      ctx.font = `${p.sz.legTitle}px ${FONT}`;
      ctx.fillText(LEGEND_TITLE, L.titleX, L.titleY);
      ctx.font = `${p.sz.legLabel}px ${FONT}`;
      ctx.fillText(p.labels[0], L.textX, L.rows[0]);
      ctx.fillText(p.labels[1], L.textX, L.rows[1]);
      ctx.fillStyle = `rgb(${RED})`;
      ctx.beginPath();
      ctx.arc(L.markerX, L.rows[0], p.sz.pt, 0, Math.PI * 2);
      ctx.fill();
      ctx.fillStyle = `rgb(${TEAL})`;
      const r = p.sz.tri;
      const cx = L.markerX;
      const cy = L.rows[1];
      ctx.beginPath();
      for (let i = 0; i < 3; i++) {
        const a = (i * 2 * Math.PI) / 3;
        const px = cx + Math.sin(a) * r;
        const py = cy - Math.cos(a) * r;
        if (i === 0) ctx.moveTo(px, py);
        else ctx.lineTo(px, py);
      }
      ctx.closePath();
      ctx.fill();
      ctx.restore();
    },
  };
}

function Panel({ p }: { p: any }) {
  const ref = useRef<HTMLCanvasElement | null>(null);
  useEffect(() => {
    const canvas = ref.current;
    if (!canvas) return;
    const { box, area, sz } = p;
    const padL = p.dim2X - 0.6 * sz.title;
    const padB = box.height - p.dim1Y - 0.6 * sz.title;
    const red = p.rows.filter((r: number[]) => r[2] === 1);
    const teal = p.rows.filter((r: number[]) => r[2] === 2);
    const chart = new Chart(canvas, {
      type: "scatter",
      data: {
        datasets: [
          {
            data: red.map((r: number[]) => ({ x: r[0], y: r[1] })),
            pointStyle: "circle",
            pointRadius: sz.pt,
            borderWidth: 0,
            backgroundColor: red.map((r: number[]) => `rgba(${RED},${r[p.m]})`),
          },
          {
            data: teal.map((r: number[]) => ({ x: r[0], y: r[1] })),
            pointStyle: "triangle",
            pointRadius: sz.tri,
            borderWidth: 0,
            backgroundColor: teal.map((r: number[]) => `rgba(${TEAL},${r[p.m]})`),
          },
          {
            data: p.circles.map((c: number[]) => ({ x: c[0], y: c[1] })),
            pointStyle: "circle",
            pointRadius: p.ringR,
            borderWidth: p.ring.width,
            borderColor: p.ring.stroke,
            backgroundColor: p.ring.fill,
          },
        ],
      } as any,
      options: {
        responsive: false,
        maintainAspectRatio: false,
        animation: false,
        events: [],
        layout: { padding: { left: padL, right: box.width - area.r, top: area.t, bottom: padB } },
        plugins: { legend: { display: false }, tooltip: { enabled: false }, title: { display: false } },
        scales: { x: makeScale(p, "x"), y: makeScale(p, "y") } as any,
      },
      plugins: [legendPlugin(p)],
    });
    return () => chart.destroy();
  }, [p]);
  return (
    <canvas
      ref={ref}
      width={p.box.width}
      height={p.box.height}
      style={{ position: "absolute", left: p.box.left, top: p.box.top, width: p.box.width, height: p.box.height }}
    />
  );
}

// ---------- captions ----------
const capBase: React.CSSProperties = {
  position: "absolute",
  fontFamily: SERIF,
  fontSize: 26,
  lineHeight: "30px",
  color: "#000",
  whiteSpace: "nowrap",
  wordSpacing: 4,
  letterSpacing: 0.35,
};
const labelStyle: React.CSSProperties = { fontFamily: '"DejaVu Serif", serif', fontWeight: 700, fontSize: 23, letterSpacing: 1 };
const capsStyle: React.CSSProperties = { letterSpacing: 1.6 };
const subStyle: React.CSSProperties = { fontSize: "0.7em", verticalAlign: "-0.3em", lineHeight: 0, letterSpacing: 0, wordSpacing: 0 };
const supStyle: React.CSSProperties = { fontSize: "0.7em", verticalAlign: "0.55em", lineHeight: 0, fontStyle: "italic" };
const calM: React.CSSProperties = { fontFamily: '"DejaVu Serif", "DejaVu Sans", serif', fontStyle: "italic", fontSize: "1em" };

const MN = () => (
  <span>
    <span style={calM}>ℳ</span>
    <span style={supStyle}>N</span>
  </span>
);
const JE = () => (
  <span>
    <span style={{ letterSpacing: 2 }}>JE</span>
    <span style={subStyle}><i>d</i>=2</span>
  </span>
);
const DAE = () => (
  <span>
    <span style={{ letterSpacing: 0.8 }}>DAE</span>
    <span style={subStyle}><i>d</i>=1600</span>
  </span>
);
const FkM = ({ tail }: { tail: string }) => (
  <span>
    <span style={capsStyle}>F</span>
    <i style={{ marginRight: 1 }}>k</i>
    <span style={capsStyle}>M</span>
    {tail}
  </span>
);

function Centered({ left, top, width, children }: any) {
  return <div style={{ ...capBase, left, top, width, textAlign: "center" }}>{children}</div>;
}

function Justified({ top, label, word }: { top: number; label: string; word: string }) {
  return (
    <>
      <div style={{ ...capBase, left: 398, top, width: 362, display: "flex", justifyContent: "space-between" }}>
        <span style={labelStyle}>{label}</span>
        <span style={capsStyle}>{word}</span>
        <span>applied</span>
        <span>on</span>
      </div>
      <div style={{ ...capBase, left: 437, top: top + 33 }}>
        <DAE />
      </div>
    </>
  );
}

export default function App() {
  return (
    <div style={{ position: "absolute", left: 0, top: 0, width: 776, height: 1266, background: "#fff", overflow: "hidden" }}>
      {PANELS.map((p) => (
        <Panel key={p.key} p={p} />
      ))}
      <Centered left={0} top={236} width={382}>
        <span style={labelStyle}>(a)</span> <span style={capsStyle}>NEFRC</span> applied on <MN />
      </Centered>
      <Justified top={236} label="(b)" word="NEFRC" />
      <Centered left={0} top={579} width={380}>
        <span style={labelStyle}>(c)</span> <span style={capsStyle}>FANNY</span> applied on <MN />
      </Centered>
      <Justified top={579} label="(d)" word="FANNY" />
      <Centered left={0} top={923} width={390}>
        <span style={labelStyle}>(e)</span> <FkM tail="" /> applied on <JE />
      </Centered>
      <Centered left={390} top={923} width={382}>
        <span style={labelStyle}>(f)</span> <FkM tail="ed" /> applied on <JE />
      </Centered>
      <Centered left={0} top={1234} width={385}>
        <span style={labelStyle}>(g)</span> <FkM tail=".pf" /> applied on <JE />
      </Centered>
      <Centered left={390} top={1234} width={382}>
        <span style={labelStyle}>(h)</span> <FkM tail=".L1" /> applied on <JE />
      </Centered>
    </div>
  );
}
